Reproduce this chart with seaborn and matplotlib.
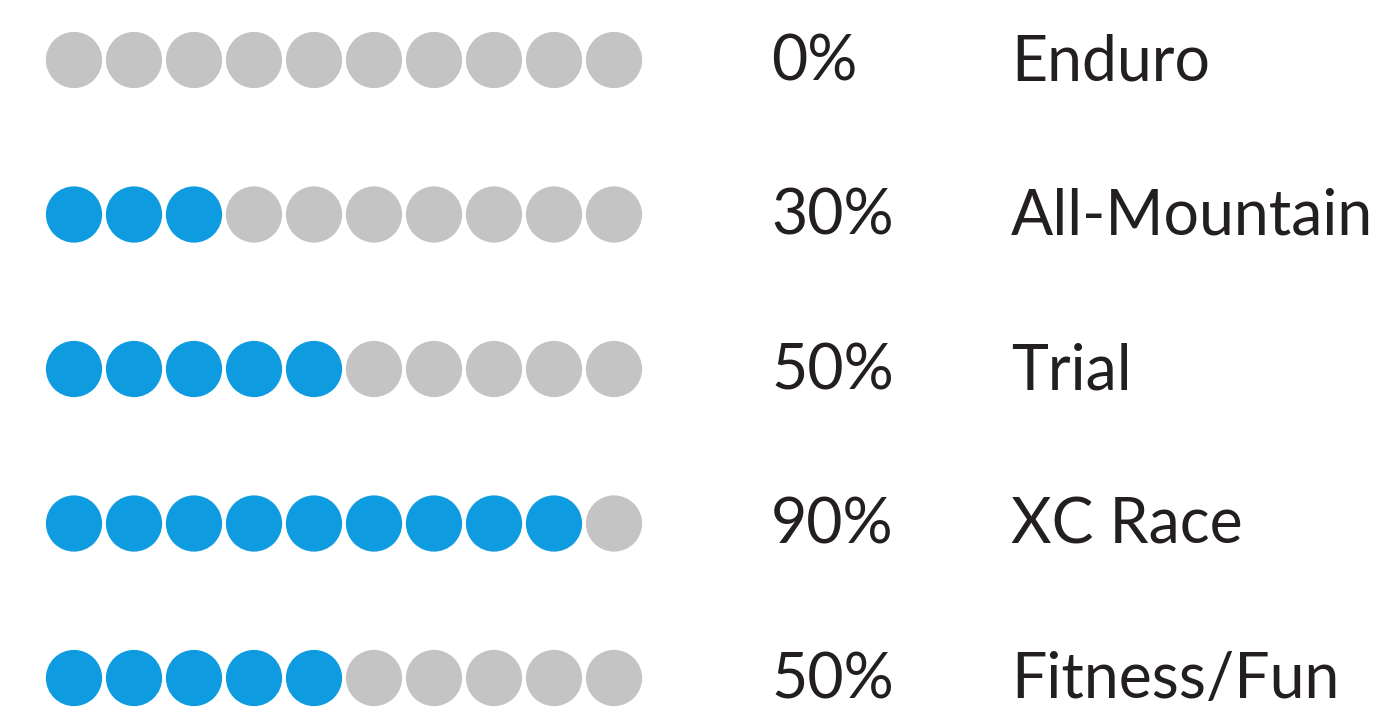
import pandas as pd
import matplotlib.pyplot as plt
import seaborn as sns

categorias = ['Enduro', 'All-Mountain', 'Trial', 'XC Race', 'Fitness/Fun']
percentuais = [0, 30, 50, 90, 50]
n_pontos = 10

# uma linha por ponto
linhas = []
for r, (cat, pct) in enumerate(zip(categorias, percentuais)):
    for i in range(n_pontos):
        linhas.append({'pos': i, 'linha': r, 'cheio': 'sim' if i < pct / 10 else 'nao'})
df = pd.DataFrame(linhas)

sns.set_style('white')
plt.rcParams['font.family'] = ['Lato', 'DejaVu Sans']

fig = plt.figure(figsize=(13.84, 7.17), dpi=100)
ax = fig.add_axes([0, 0, 1, 1])

sns.scatterplot(data=df, x='pos', y='linha', hue='cheio',
                palette={'sim': '#0E9BE0', 'nao': '#C4C4C4'},
                s=1640, linewidth=0, legend=False, ax=ax)

for r, (cat, pct) in enumerate(zip(categorias, percentuais)):
    ax.text(11.62, r + 0.015, f'{pct}%', fontsize=45, color='#231F20', va='center', ha='left')
    ax.text(15.62, r + 0.015, cat, fontsize=45, color='#231F20', va='center', ha='left')

ax.set_xlim(-74 / 60, (1384 - 74) / 60)
ax.set_ylim((717 - 60) / 154.5, -60 / 154.5)
ax.axis('off')

plt.savefig('out.png', dpi=100)
